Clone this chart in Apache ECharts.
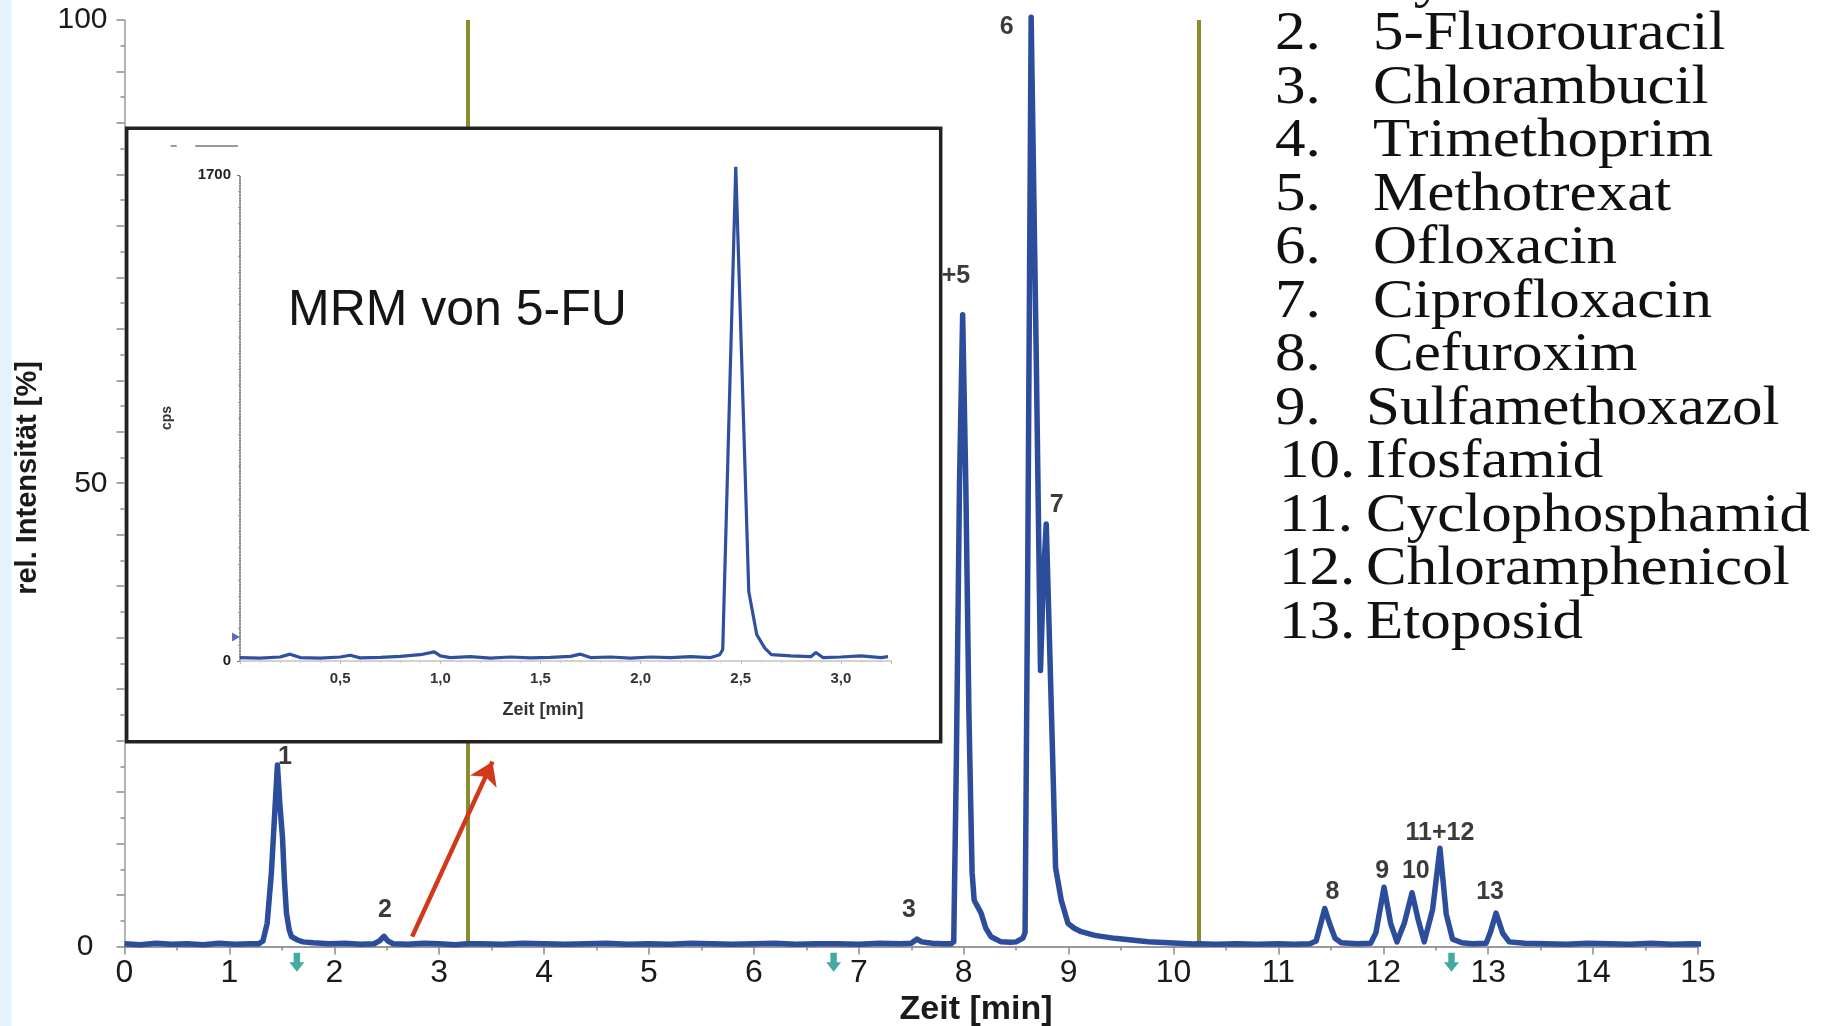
<!DOCTYPE html>
<html lang="de">
<head>
<meta charset="UTF-8">
<title>Chromatogramm</title>
<script src="https://cdn.jsdelivr.net/npm/echarts@6/dist/echarts.min.js"></script>
<style>
  html, body { margin: 0; padding: 0; background: #fff; }
  #main { width: 1827px; height: 1026px; }
</style>
</head>
<body>
<div id="main"></div>
<script>
// Hauptchromatogramm: Zeit [min] / rel. Intensität [%]
const mainTime = [
  0.00, 0.15, 0.30, 0.45, 0.60, 0.75, 0.90, 1.05, 1.20, 1.28,
  1.32, 1.36, 1.40, 1.43, 1.458, 1.48, 1.506, 1.525, 1.544, 1.57,
  1.592, 1.65, 1.70, 1.80, 1.95, 2.10, 2.25, 2.38, 2.43, 2.474,
  2.51, 2.56, 2.70, 2.85, 3.00, 3.15, 3.27, 3.40, 3.60, 3.80,
  4.00, 4.20, 4.40, 4.60, 4.80, 5.00, 5.20, 5.40, 5.60, 5.80,
  6.00, 6.20, 6.40, 6.60, 6.80, 7.00, 7.20, 7.40, 7.50, 7.555,
  7.60, 7.70, 7.80, 7.88, 7.905, 7.93, 7.96, 7.99, 8.02, 8.05,
  8.08, 8.10, 8.166, 8.21, 8.26, 8.357, 8.45, 8.50, 8.564, 8.585,
  8.61, 8.643, 8.69, 8.732, 8.76, 8.787, 8.83, 8.876, 8.93, 8.994,
  9.05, 9.12, 9.25, 9.44, 9.60, 9.76, 9.95, 10.19, 10.24, 10.40,
  10.60, 10.80, 11.00, 11.15, 11.30, 11.36, 11.442, 11.49, 11.54, 11.60,
  11.75, 11.88, 11.93, 12.007, 12.07, 12.13, 12.20, 12.274, 12.33, 12.39,
  12.47, 12.54, 12.60, 12.66, 12.75, 12.85, 12.98, 13.02, 13.075, 13.14,
  13.20, 13.35, 13.55, 13.75, 13.95, 14.15, 14.35, 14.55, 14.75, 14.95,
  15.10
];
const mainIntensity = [
  0.30, 0.20, 0.35, 0.25, 0.30, 0.20, 0.35, 0.25, 0.30, 0.30,
  0.60, 2.50, 7.90, 14.0, 19.6, 15.5, 11.8, 7.00, 3.60, 1.80,
  1.06, 0.70, 0.50, 0.40, 0.30, 0.35, 0.25, 0.30, 0.60, 1.10,
  0.60, 0.30, 0.25, 0.35, 0.30, 0.20, 0.30, 0.30, 0.25, 0.35,
  0.30, 0.25, 0.30, 0.35, 0.25, 0.30, 0.25, 0.35, 0.30, 0.25,
  0.30, 0.35, 0.25, 0.30, 0.30, 0.25, 0.35, 0.30, 0.35, 0.80,
  0.50, 0.35, 0.30, 0.30, 0.50, 20.0, 50.0, 68.2, 50.0, 25.0,
  8.00, 5.00, 3.60, 2.00, 1.06, 0.50, 0.45, 0.50, 0.90, 1.50,
  40.0, 100.3, 65.0, 29.8, 40.0, 45.6, 28.0, 8.50, 5.00, 2.50,
  2.00, 1.60, 1.20, 0.88, 0.70, 0.52, 0.40, 0.27, 0.30, 0.25,
  0.30, 0.25, 0.30, 0.25, 0.30, 0.60, 4.10, 2.40, 0.90, 0.40,
  0.30, 0.35, 1.50, 6.40, 2.50, 0.50, 2.50, 5.80, 3.00, 0.50,
  4.00, 10.6, 3.50, 0.80, 0.40, 0.30, 0.35, 1.50, 3.60, 1.40,
  0.50, 0.35, 0.30, 0.25, 0.35, 0.30, 0.25, 0.35, 0.25, 0.30,
  0.25
];

// Peakbeschriftungen
const peakLabelText  = ['1', '2', '3', '4+5', '6', '7', '8', '9', '10', '11+12', '13'];
const peakLabelTime  = [1.53, 2.483, 7.478, 7.86, 8.409, 8.887, 11.515, 11.99, 12.31, 12.54, 13.018];
const peakLabelLevel = [20.45, 3.94, 3.94, 72.4, 99.2, 47.6, 5.9, 8.1, 8.1, 12.25, 5.9];

// Umschaltzeiten (olivfarbene Linien) und Pfeile unter der Achse
const switchTimes = [3.275, 10.24];
const dropArrowTimes = [1.643, 6.76, 12.65];
const redArrowFrom = [2.742, 1.06];
const redArrowTo = [3.508, 19.95];

// Achsen
const xTicks = [0, 1, 2, 3, 4, 5, 6, 7, 8, 9, 10, 11, 12, 13, 14, 15];
const yLabels = [0, 50, 100];

// Einschub: MRM von 5-FU
const insetTime = [
  0.00, 0.10, 0.20, 0.25, 0.30, 0.40, 0.50, 0.55, 0.60, 0.70,
  0.80, 0.90, 0.97, 1.00, 1.05, 1.15, 1.25, 1.35, 1.45, 1.55,
  1.65, 1.70, 1.75, 1.85, 1.95, 2.05, 2.15, 2.25, 2.35, 2.395,
  2.41, 2.475, 2.54, 2.58, 2.62, 2.653, 2.75, 2.85, 2.875, 2.91,
  3.00, 3.10, 3.20, 3.235
];
const insetCps = [
  12, 10, 14, 24, 12, 10, 14, 20, 11, 13,
  16, 22, 32, 18, 12, 15, 10, 14, 11, 13,
  16, 24, 12, 14, 10, 14, 12, 15, 12, 22,
  40, 1729, 242, 92, 45, 22, 18, 15, 30, 12,
  14, 18, 12, 15
];
const insetMarkerCps = 84;

// Substanzliste
const compoundNo = ['1.', '2.', '3.', '4.', '5.', '6.', '7.', '8.', '9.', '10.', '11.', '12.', '13.'];
const compoundNames = ['Cytarabin', '5-Fluorouracil', 'Chlorambucil', 'Trimethoprim', 'Methotrexat',
  'Ofloxacin', 'Ciprofloxacin', 'Cefuroxim', 'Sulfamethoxazol', 'Ifosfamid',
  'Cyclophosphamid', 'Chloramphenicol', 'Etoposid'];

const chart = echarts.init(document.getElementById('main'));

const traceColor = '#2c4c9c';
const sans = 'Liberation Sans, Arial, sans-serif';

const legendGraphics = [];
compoundNames.forEach(function (name, i) {
  const y = -18.5 + i * 53.5;
  const numX = i < 9 ? 1275 : 1279;
  const nameX = i < 8 ? 1373 : 1366;
  legendGraphics.push({
    type: 'text', x: numX, y: y, scaleX: 1.13, z: 10,
    style: { text: compoundNo[i], font: '54px "Liberation Serif", serif', fill: '#111',
      textAlign: 'left', textVerticalAlign: 'middle', align: 'left', verticalAlign: 'middle' }
  });
  legendGraphics.push({
    type: 'text', x: nameX, y: y, scaleX: 1.13, z: 10,
    style: { text: name, font: '54px "Liberation Serif", serif', fill: '#111',
      textAlign: 'left', textVerticalAlign: 'middle', align: 'left', verticalAlign: 'middle' }
  });
});

const option = {
  animation: false,
  backgroundColor: '#fff',
  textStyle: { fontFamily: sans },
  grid: [
    { left: 124.5, right: 129, top: 20, bottom: 79.5, outerBoundsMode: 'none' },
    { left: 240, right: 936, top: 175, bottom: 365, outerBoundsMode: 'none' }
  ],
  xAxis: [
    {
      type: 'value', gridIndex: 0, min: 0, max: 15, interval: 1,
      axisLine: { show: true, lineStyle: { color: '#9a9a9a', width: 2 } },
      axisTick: { show: true, length: 8, lineStyle: { color: '#8a8a8a', width: 1.5 } },
      minorTick: { show: true, splitNumber: 2, length: 4, lineStyle: { color: '#8a8a8a', width: 1.5 } },
      splitLine: { show: false },
      axisLabel: {
        margin: 11, color: '#1a1a1a', fontSize: 32, fontFamily: sans,
        customValues: xTicks,
        formatter: function (v) { return String(v); }
      }
    },
    {
      type: 'value', gridIndex: 1, min: 0, max: 3.25, interval: 0.5, z: 5,
      axisLine: { show: true, lineStyle: { color: '#c4c4c4', width: 1.5 } },
      axisTick: { show: true, length: 3, lineStyle: { color: '#bbbbbb' } },
      minorTick: { show: true, splitNumber: 5, length: 2, lineStyle: { color: '#cccccc' } },
      splitLine: { show: false },
      axisLabel: {
        margin: 10, color: '#333', fontSize: 15, fontWeight: 'bold', fontFamily: sans,
        showMaxLabel: false,
        formatter: function (v) {
          if (v === 0 || v > 3.2) return '';
          return v.toFixed(1).replace('.', ',');
        }
      }
    }
  ],
  yAxis: [
    {
      type: 'value', gridIndex: 0, min: 0, max: 100, interval: 50 / 9,
      axisLine: { show: true, lineStyle: { color: '#9a9a9a', width: 1.5 } },
      axisTick: { show: true, length: 8, lineStyle: { color: '#8a8a8a', width: 1.5 } },
      minorTick: { show: true, splitNumber: 2, length: 4, lineStyle: { color: '#8a8a8a', width: 1.5 } },
      splitLine: { show: false },
      axisLabel: {
        margin: 17, color: '#1a1a1a', fontSize: 30, fontFamily: sans,
        formatter: function (v) {
          const r = Math.round(v / 50) * 50;
          if (Math.abs(v - r) > 0.01 || yLabels.indexOf(r) < 0) return '';
          return r === 0 ? '{zero|0}' : String(r);
        },
        rich: { zero: { fontSize: 30, color: '#1a1a1a', fontFamily: sans, padding: [0, 14, 0, 0] } }
      }
    },
    {
      type: 'value', gridIndex: 1, min: 0, max: 1700, interval: 1700, z: 5,
      name: 'cps', nameLocation: 'middle', nameGap: 66, nameRotate: 90,
      nameTextStyle: { fontSize: 14, fontWeight: 'bold', color: '#333', fontFamily: sans },
      axisLine: { show: true, lineStyle: { color: '#666', width: 1.5, type: 'dotted' } },
      axisTick: { show: true, length: 3, lineStyle: { color: '#777' } },
      minorTick: { show: true, splitNumber: 30, length: 2, lineStyle: { color: '#999' } },
      splitLine: { show: false },
      axisLabel: {
        margin: 9, color: '#222', fontSize: 15, fontWeight: 'bold', fontFamily: sans,
        formatter: function (v) { return String(v); }
      }
    }
  ],
  series: [
    {
      name: 'Chromatogramm', type: 'line', xAxisIndex: 0, yAxisIndex: 0, z: 2,
      data: mainTime.map(function (t, i) { return [t, mainIntensity[i]]; }),
      showSymbol: false, clip: false, silent: true,
      lineStyle: { color: traceColor, width: 5.5, join: 'round' },
      markLine: {
        z: 2, silent: true, symbol: 'none', label: { show: false },
        lineStyle: { color: '#8b8b30', width: 4, type: 'solid' },
        data: switchTimes.map(function (t) { return [{ coord: [t, 0] }, { coord: [t, 100] }]; })
      }
    },
    {
      name: 'Peaks', type: 'scatter', xAxisIndex: 0, yAxisIndex: 0, z: 2,
      symbolSize: 1, itemStyle: { color: 'rgba(0,0,0,0)' }, clip: false, silent: true,
      label: {
        show: true, position: 'inside', formatter: '{b}',
        color: '#0a0a0a', fontSize: 25, fontWeight: 'bold', fontFamily: sans
      },
      data: peakLabelText.map(function (txt, i) {
        return { name: txt, value: [peakLabelTime[i], peakLabelLevel[i]] };
      })
    },
    {
      name: 'Umschaltung', type: 'scatter', xAxisIndex: 0, yAxisIndex: 0, z: 3,
      symbol: 'path://M3,0 L9,0 L9,9 L13,9 L6,18 L-1,9 L3,9 Z',
      symbolSize: [15, 19], clip: false, silent: true,
      itemStyle: { color: '#14958a' },
      data: dropArrowTimes.map(function (t) { return [t, -1.7]; })
    },
    {
      name: 'Pfeil', type: 'lines', coordinateSystem: 'cartesian2d', xAxisIndex: 0, yAxisIndex: 0, z: 4,
      silent: true, symbol: ['none', 'arrow'], symbolSize: 22,
      lineStyle: { color: '#d2381a', width: 4.5, opacity: 1 },
      data: [{ coords: [redArrowFrom, redArrowTo] }]
    },
    {
      name: 'MRM 5-FU', type: 'line', xAxisIndex: 1, yAxisIndex: 1, z: 5,
      data: insetTime.map(function (t, i) { return [t, insetCps[i]]; }),
      showSymbol: false, clip: false, silent: true,
      lineStyle: { color: '#2f4fa0', width: 3.2 }
    },
    {
      name: 'Marker', type: 'scatter', xAxisIndex: 1, yAxisIndex: 1, z: 5,
      symbol: 'triangle', symbolRotate: -90, symbolSize: [9, 8], symbolOffset: [-4, 0],
      clip: false, silent: true, itemStyle: { color: '#2f4fa0' },
      data: [[0, insetMarkerCps]]
    }
  ],
  graphic: {
    elements: [
      { type: 'rect', z: 0, shape: { x: 0, y: 0, width: 11.5, height: 1026 }, style: { fill: '#e3f2fb' } },
      { type: 'rect', z: 3, shape: { x: 126.7, y: 128.3, width: 814, height: 613.4 },
        style: { fill: '#fff', stroke: '#222', lineWidth: 3.5 } },
      { type: 'line', z: 4, shape: { x1: 170.7, y1: 146, x2: 176.7, y2: 146 }, style: { stroke: '#999', lineWidth: 2 } },
      { type: 'line', z: 4, shape: { x1: 195.3, y1: 146, x2: 238, y2: 146 }, style: { stroke: '#999', lineWidth: 2 } },
      { type: 'text', z: 6, x: 288, y: 311,
        style: { text: 'MRM von 5-FU', font: '50px "Liberation Sans", Arial, sans-serif', fill: '#151515',
          textAlign: 'left', textVerticalAlign: 'middle', align: 'left', verticalAlign: 'middle' } },
      { type: 'text', z: 6, x: 543, y: 710,
        style: { text: 'Zeit [min]', font: 'bold 18px "Liberation Sans", Arial, sans-serif', fill: '#333',
          textAlign: 'center', textVerticalAlign: 'middle', align: 'center', verticalAlign: 'middle' } },
      { type: 'text', z: 6, x: 976, y: 1010,
        style: { text: 'Zeit [min]', font: 'bold 34px "Liberation Sans", Arial, sans-serif', fill: '#1a1a1a',
          textAlign: 'center', textVerticalAlign: 'middle', align: 'center', verticalAlign: 'middle' } },
      { type: 'text', z: 6, x: 28, y: 478, rotation: Math.PI / 2,
        style: { text: 'rel. Intensität [%]', font: 'bold 29px "Liberation Sans", Arial, sans-serif', fill: '#1a1a1a',
          textAlign: 'center', textVerticalAlign: 'middle', align: 'center', verticalAlign: 'middle' } }
    ].concat(legendGraphics)
  }
};

chart.setOption(option);
</script>
</body>
</html>
